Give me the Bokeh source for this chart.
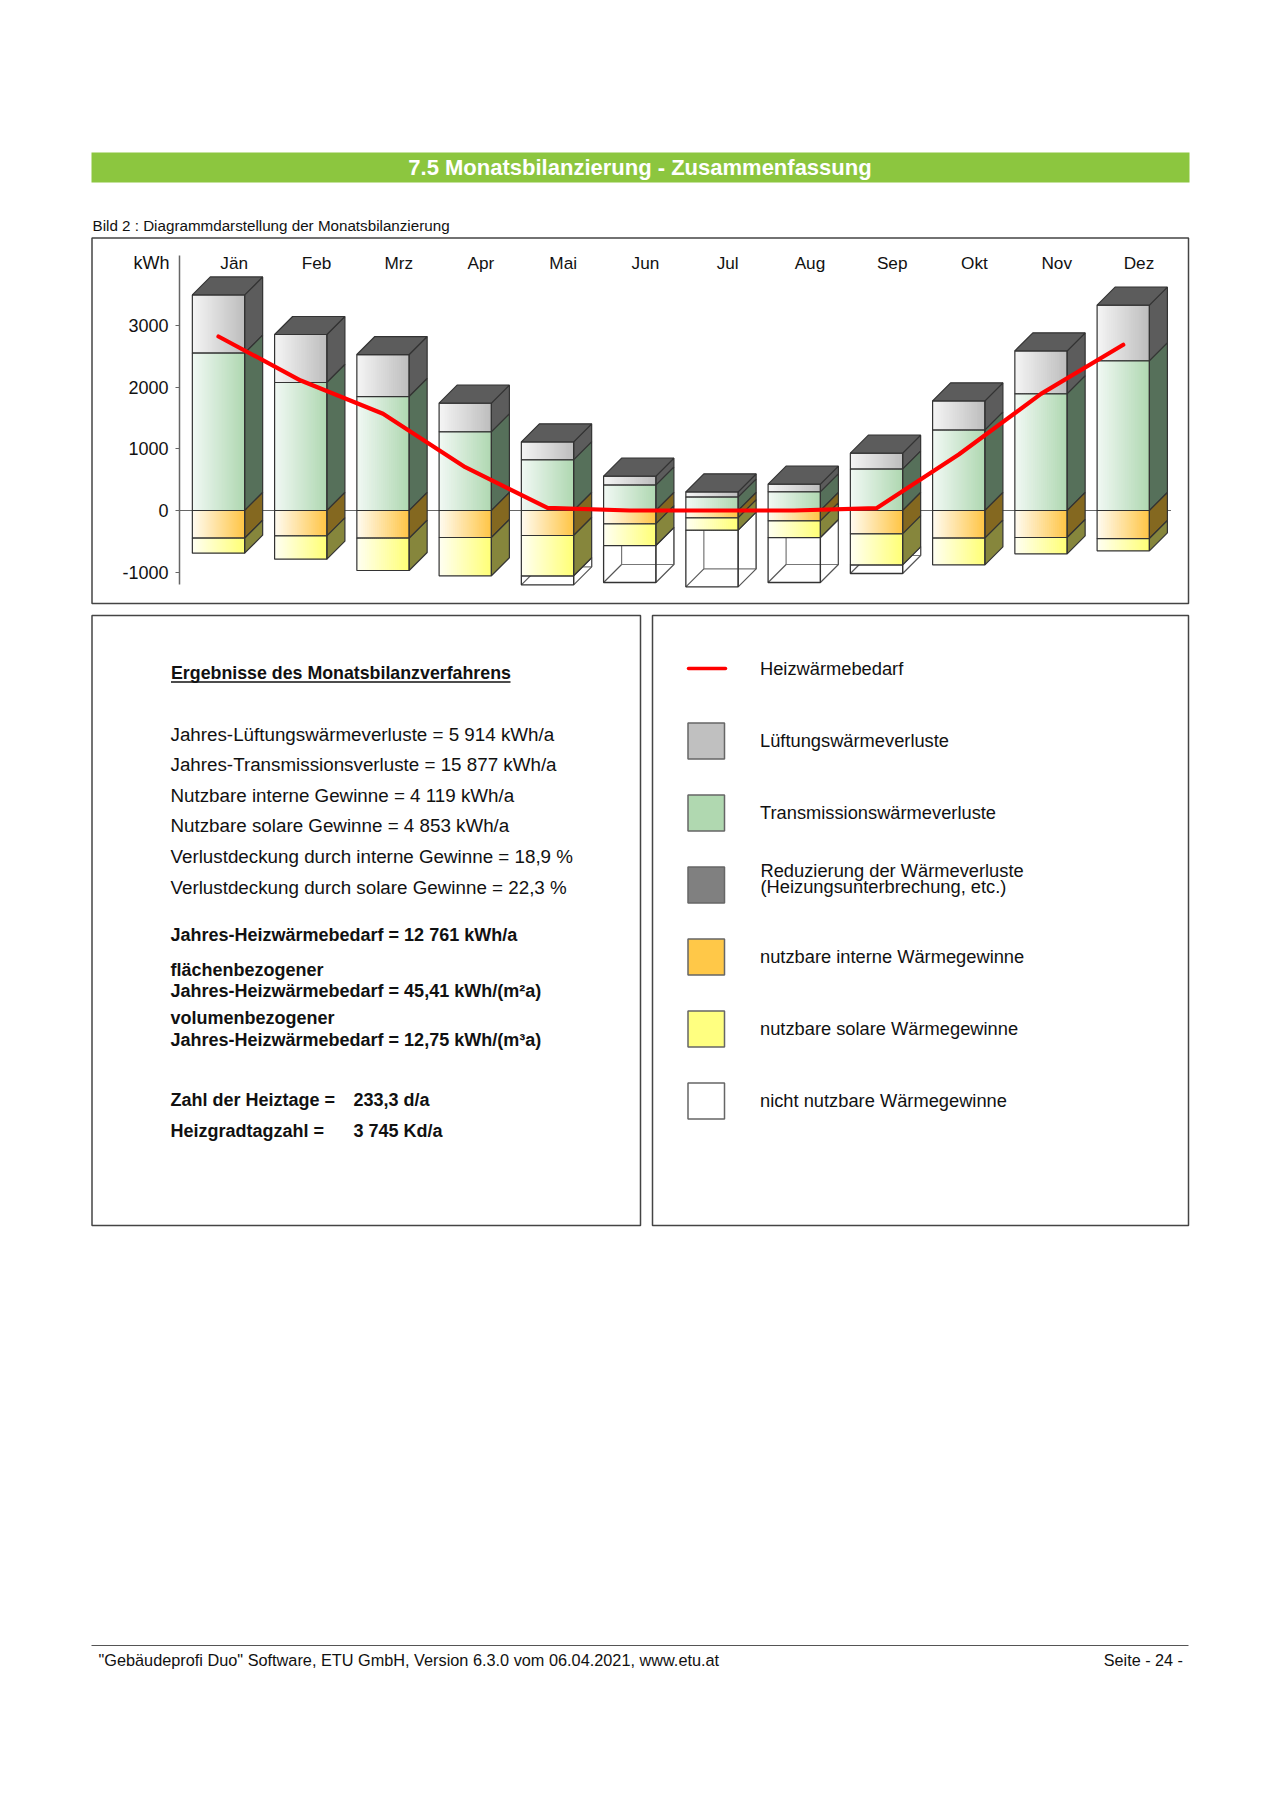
from bokeh.embed import file_html
from bokeh.resources import INLINE
from bokeh.plotting import figure
from bokeh.models import Range1d, LinearAxis, FixedTicker
from bokeh.core.properties import value

months = ["Jän", "Feb", "Mrz", "Apr", "Mai", "Jun", "Jul", "Aug", "Sep", "Okt", "Nov", "Dez"]
lueftung = [946, 779, 682, 465, 293, 146, 87, 124, 260, 476, 698, 903]
transmission = [2554, 2078, 1850, 1277, 822, 411, 216, 303, 671, 1304, 1894, 2430]
intern = [450, 411, 450, 438, 406, 216, 119, 168, 379, 449, 438, 455]
solar = [243, 379, 524, 622, 654, 352, 200, 270, 503, 433, 265, 200]
nicht_nutzbar = [0, 0, 0, 0, 147, 601, 920, 731, 141, 0, 0, 0]
heizwaerme = [2825, 2110, 1570, 703, 43, 0, 0, 0, 38, 909, 1894, 2690]
y_ticks = [-1000, 0, 1000, 2000, 3000]

left_lines = [
    "Jahres-Lüftungswärmeverluste = 5 914 kWh/a",
    "Jahres-Transmissionsverluste = 15 877 kWh/a",
    "Nutzbare interne Gewinne = 4 119 kWh/a",
    "Nutzbare solare Gewinne = 4 853 kWh/a",
    "Verlustdeckung durch interne Gewinne = 18,9 %",
    "Verlustdeckung durch solare Gewinne = 22,3 %",
]
left_y = [733.5, 763.5, 794.5, 824.5, 855.5, 886.5]
bold_lines = [
    ("Jahres-Heizwärmebedarf = 12 761 kWh/a", 170, 934.5),
    ("flächenbezogener", 170, 969),
    ("Jahres-Heizwärmebedarf = 45,41 kWh/(m²a)", 170, 990),
    ("volumenbezogener", 170, 1017.5),
    ("Jahres-Heizwärmebedarf = 12,75 kWh/(m³a)", 170, 1039),
    ("Zahl der Heiztage =", 170, 1099),
    ("233,3 d/a", 353, 1099),
    ("Heizgradtagzahl =", 170, 1130),
    ("3 745 Kd/a", 353, 1130),
]
legend_labels = ["Lüftungswärmeverluste", "Transmissionswärmeverluste", "", "nutzbare interne Wärmegewinne",
                 "nutzbare solare Wärmegewinne", "nicht nutzbare Wärmegewinne"]
legend_colors = ["#c0c0c0", "#b0d8b0", "#808080", "#ffc848", "#ffff80", "#ffffff"]

FONT = value("Liberation Sans")
# page geometry (reference pixels)
PX0, PX1, PY0, PY1 = 0, 1264, 0, 1794
MON_X0, MON_DX = 218.0, 82.25      # front centre of Jän, spacing
ZERO_Y, KWH_PX = 510.0, 0.0616     # y of zero, px per kWh
BAR_W = 52.3 / MON_DX
DX = 18 / MON_DX
DY = 18 / KWH_PX

p = figure(width=PX1 - PX0, height=PY1 - PY0, toolbar_location=None, output_backend="svg",
           x_range=Range1d(PX0, PX1), y_range=Range1d(PY1, PY0), min_border=0,
           x_axis_type=None, y_axis_type=None, outline_line_color=None)
p.xgrid.visible = False
p.ygrid.visible = False
p.extra_x_ranges["mon"] = Range1d((PX0 - MON_X0) / MON_DX, (PX1 - MON_X0) / MON_DX)
LAB_X0 = 233.7
p.extra_x_ranges["lab"] = Range1d((PX0 - LAB_X0) / MON_DX, (PX1 - LAB_X0) / MON_DX)
p.extra_y_ranges["kwh"] = Range1d((ZERO_Y - PY1) / KWH_PX, (ZERO_Y - PY0) / KWH_PX)


def txt(t, x, y, size, color="#111111", bold=False, align="left"):
    p.text([x], [y], text=[t], text_font=FONT, text_font_size=f"{size}px", text_color=color,
           text_baseline="middle", text_align=align, text_font_style="bold" if bold else "normal")


def box(x0, y0, x1, y1, fill=None, line="#444444", w=1.5):
    p.quad(left=[x0], right=[x1], top=[y0], bottom=[y1], fill_color=fill, fill_alpha=1 if fill else 0,
           line_color=line, line_width=w)


# page furniture
box(91, 152, 1189, 182, fill="#8cc63f", line=None, w=0)
txt("7.5 Monatsbilanzierung - Zusammenfassung", 639.5, 167, 22, color="#ffffff", bold=True, align="center")
txt("Bild 2 : Diagrammdarstellung der Monatsbilanzierung", 92, 225, 15.2)
box(91.5, 237.5, 1188, 603)
box(91.5, 615, 640, 1225)
box(652, 615, 1188, 1225)

# zero line
p.segment(x0=[-0.47], x1=[11.58], y0=[0], y1=[0], x_range_name="mon", y_range_name="kwh",
          line_color="#666666", line_width=1)


def grad(x, lo, hi, c0, c1, n=26):
    ls, rs, cs = [], [], []
    step = BAR_W / n
    for k in range(n):
        t = k / (n - 1)
        ls.append(x - BAR_W / 2 + k * step)
        rs.append(x - BAR_W / 2 + (k + 1.6 if k < n - 1 else k + 1) * step)
        cs.append("#%02x%02x%02x" % tuple(round(a + (b - a) * t) for a, b in zip(c0, c1)))
    p.quad(left=ls, right=rs, top=[hi] * n, bottom=[lo] * n, fill_color=cs, line_color=None,
           x_range_name="mon", y_range_name="kwh")


EDGE = "#333333"
kw = dict(x_range_name="mon", y_range_name="kwh")
layers = [
    ((244, 244, 244), (190, 190, 190), "#5c5c5c"),
    ((240, 248, 243), (176, 216, 178), "#56705a"),
    ((255, 250, 238), (255, 198, 72), "#846820"),
    ((255, 255, 240), (255, 255, 120), "#86863c"),
]
for i in range(12):
    r = i + BAR_W / 2
    l = i - BAR_W / 2
    g = transmission[i]
    top = g + lueftung[i]
    o = -intern[i]
    y = o - solar[i]
    w = y - nicht_nutzbar[i]
    # non-usable gains: wire box
    if nicht_nutzbar[i] > 0:
        p.quad(left=[l + DX], right=[r + DX], top=[y + DY], bottom=[w + DY], fill_color=None,
               line_color="#777777", line_width=1.2, **kw)
        p.segment(x0=[l], y0=[w], x1=[l + DX], y1=[w + DY], line_color="#555555", line_width=1.2, **kw)
        p.patch(x=[r, r + DX, r + DX, r], y=[w, w + DY, y + DY, y], fill_color=None,
                line_color="#555555", line_width=1.2, **kw)
        p.quad(left=[l], right=[r], top=[y], bottom=[w], fill_color=None, line_color=EDGE,
               line_width=1.3, **kw)
    spans = [(g, top), (0, g), (o, 0), (y, o)]
    for (lo, hi), (c0, c1, side) in zip(spans, layers):
        grad(i, lo, hi, c0, c1)
        p.patch(x=[r, r + DX, r + DX, r], y=[lo, lo + DY, hi + DY, hi], fill_color=side,
                line_color=EDGE, line_width=1.2, **kw)
        p.quad(left=[l], right=[r], top=[hi], bottom=[lo], fill_color=None, line_color=EDGE,
               line_width=1.2, **kw)
    p.patch(x=[l, l + DX, r + DX, r], y=[top, top + DY, top + DY, top], fill_color="#5c5c5c",
            line_color=EDGE, line_width=1.2, **kw)

p.line(list(range(12)), heizwaerme, line_color="#ff0000", line_width=4.2, line_cap="round",
       line_join="round", **kw)

# value axis
ax = LinearAxis(y_range_name="kwh", fixed_location=179, ticker=FixedTicker(ticks=y_ticks),
                major_label_overrides={t: str(t) for t in y_ticks},
                bounds=(-1200, 4140), major_tick_in=0, major_tick_out=4, minor_tick_line_color=None,
                axis_line_color="#666666", axis_line_width=1.5, major_tick_line_color="#666666",
                major_label_text_font="Liberation Sans", major_label_text_font_size="18px",
                major_label_text_color="#111111", major_label_standoff=7)
p.add_layout(ax, "left")
# month axis
mx = LinearAxis(x_range_name="lab", fixed_location=278, ticker=FixedTicker(ticks=list(range(12))),
                major_label_overrides={i: m for i, m in enumerate(months)},
                axis_line_color=None, major_tick_line_color=None, minor_tick_line_color=None,
                major_label_text_font="Liberation Sans", major_label_text_font_size="17.2px",
                major_label_text_color="#111111", major_label_standoff=0)
p.add_layout(mx, "above")
txt("kWh", 169, 262.5, 18, align="right")

# left text panel
txt("Ergebnisse des Monatsbilanzverfahrens", 170.5, 672.5, 17.8, bold=True)
p.segment(x0=[170.5], x1=[510], y0=[681.5], y1=[681.5], line_color="#111111", line_width=1.5)
for t, yy in zip(left_lines, left_y):
    txt(t, 170, yy, 18.8)
for t, xx, yy in bold_lines:
    txt(t, xx, yy, 18, bold=True)

# legend panel
p.line([688, 725], [668, 668], line_color="#ff0000", line_width=3.5, line_cap="round")
txt("Heizwärmebedarf", 759.5, 668, 18.3)
for k, (lab, col) in enumerate(zip(legend_labels, legend_colors)):
    y0 = 722.5 + 72 * k
    box(687.5, y0, 724, y0 + 36, fill=col, line="#666666", w=1.5)
    if lab:
        txt(lab, 759.5, y0 + 17.5, 18.3)
txt("Reduzierung der Wärmeverluste", 760, 870, 18.3)
txt("(Heizungsunterbrechung, etc.)", 760, 886, 18.3)

# footer
p.segment(x0=[91], x1=[1188], y0=[1645], y1=[1645], line_color="#555555", line_width=1)
txt('"Gebäudeprofi Duo" Software, ETU GmbH, Version 6.3.0 vom 06.04.2021, www.etu.at', 98, 1659.5, 16.3)
txt("Seite - 24 -", 1182.5, 1659.5, 16.2, align="right")

open("out.html", "w").write(file_html(p, INLINE))
